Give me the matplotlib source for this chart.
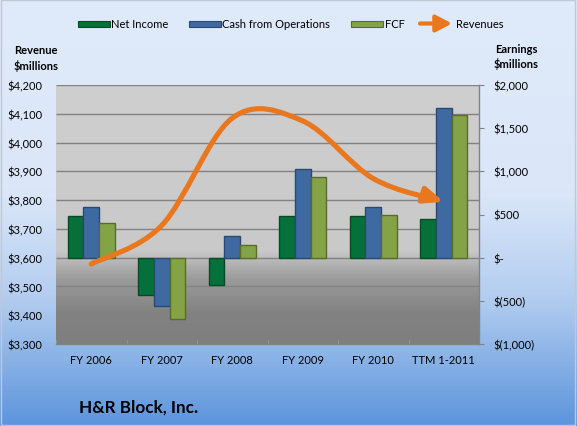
import numpy as np
import matplotlib
matplotlib.use('Agg')
import matplotlib.pyplot as plt
from matplotlib.path import Path
from matplotlib.patches import FancyArrowPatch, Rectangle, ArrowStyle
from matplotlib.colors import LinearSegmentedColormap
from matplotlib.ticker import FuncFormatter, FixedLocator

# ---------------- data ----------------
categories = ['FY 2006', 'FY 2007', 'FY 2008', 'FY 2009', 'FY 2010', 'TTM 1-2011']
net_income = [485, -433, -317, 485, 478, 447]
cash_from_ops = [589, -557, 253, 1025, 582, 1739]
fcf = [397, -711, 146, 929, 497, 1658]
revenues = [3578, 3712, 4085, 4075, 3875, 3794]
series_names = ['Net Income', 'Cash from Operations', 'FCF', 'Revenues']
rev_ticks = list(range(3300, 4201, 100))
earn_ticks = list(range(-1000, 2001, 500))
left_title = 'Revenue\n$millions'
right_title = 'Earnings\n$millions'
chart_title = 'H&R Block, Inc.'

# ---------------- style ----------------
FONT = ['Lato', 'DejaVu Sans']
plt.rcParams['font.family'] = FONT
W, H = 577, 427
DPI = 100
bar_colors = ['#05703a', '#3f6aa1', '#84a246']
bar_edges = ['#0a4a22', '#2a4870', '#586c2c']
rev_color = '#e8771e'
grid_color = '#828282'

fig = plt.figure(figsize=(W / DPI, H / DPI), dpi=DPI)

def fx(px):
    return px / W

def fy(py):
    return 1 - py / H

# figure background gradient
bg = fig.add_axes([0, 0, 1, 1])
bg.set_zorder(-10)
bg_cmap = LinearSegmentedColormap.from_list(
    'bg', [(0.0, '#5c95dc'), (0.3, '#b3cdf0'), (0.55, '#dbe7f9'), (1.0, '#dfeafa')])
grad = np.linspace(0, 1, 256).reshape(-1, 1)
bg.imshow(grad, aspect='auto', extent=[0, 1, 0, 1], origin='lower', cmap=bg_cmap,
          interpolation='bilinear')
bg.set_xlim(0, 1)
bg.set_ylim(0, 1)
bg.axis('off')
fig.add_artist(Rectangle((fx(1), fy(H - 1)), fx(W - 3), 1 - 2 / H, transform=fig.transFigure,
                         facecolor='none', edgecolor='#c0c8d4', lw=1.0, zorder=20))

# main axes (bars, earnings scale on the right)
ax = fig.add_axes([fx(56), fy(345), fx(479 - 56), (345 - 86) / H])
ax.patch.set_alpha(0)
pa_cmap = LinearSegmentedColormap.from_list(
    'pa', [(0.0, '#7f7f7f'), (0.12, '#828282'), (0.25, '#9b9b9b'), (0.33, '#bcbcbc'),
           (0.36, '#c9c9c9'), (1.0, '#cfcfcf')])
ax.imshow(grad, aspect='auto', extent=[0, 1, 0, 1], origin='lower', cmap=pa_cmap,
          transform=ax.transAxes, zorder=0, interpolation='bilinear')

n = len(categories)
x = np.arange(n, dtype=float)
bw = 1 / 4.5
for k, (vals, fc, ec) in enumerate(zip([net_income, cash_from_ops, fcf], bar_colors, bar_edges)):
    ax.bar(x + (k - 1) * bw, vals, width=bw, color=fc, edgecolor=ec, linewidth=1.0, zorder=3)

e_min, e_max = earn_ticks[0], earn_ticks[-1]
r_min, r_max = rev_ticks[0], rev_ticks[-1]
ax.set_xlim(-0.5, n - 0.5)
ax.set_ylim(e_min, e_max)

# gridlines at revenue tick positions (behind bars)
for r in rev_ticks:
    f = (r - r_min) / (r_max - r_min)
    ax.plot([0, 1], [f, f], transform=ax.transAxes, color=grid_color, lw=1.0, zorder=1,
            solid_capstyle='butt')

def fmt_earn(v, pos=None):
    if abs(v) < 1e-9:
        return '$-'
    if v < 0:
        return '$({:,.0f})'.format(abs(v))
    return '${:,.0f}'.format(v)

def fmt_rev(v, pos=None):
    return '${:,.0f}'.format(v)

ax2 = ax.twinx()
ax2.set_ylim(r_min, r_max)
ax2.set_xlim(-0.5, n - 0.5)

ax.yaxis.tick_right()
ax2.yaxis.tick_left()
ax.yaxis.set_major_locator(FixedLocator(earn_ticks))
ax.yaxis.set_major_formatter(FuncFormatter(fmt_earn))
ax2.yaxis.set_major_locator(FixedLocator(rev_ticks))
ax2.yaxis.set_major_formatter(FuncFormatter(fmt_rev))
ax.tick_params(axis='y', which='major', right=True, left=False, labelright=True, labelleft=False,
               direction='out', length=3.6, width=0.8, color=grid_color, pad=6.5,
               labelsize=8, labelcolor='black')
ax2.tick_params(axis='y', which='major', left=True, right=False, labelleft=True, labelright=False,
                length=0, pad=10, labelsize=8, labelcolor='black')

ax.set_xticks(x)
ax.set_xticklabels(categories)
ax.xaxis.set_minor_locator(FixedLocator(np.arange(-0.5, n, 1.0)))
ax.tick_params(axis='x', which='major', length=0, pad=7.5, labelsize=8, labelcolor='black')
ax.tick_params(axis='x', which='minor', length=3, direction='in', color='#9a9a9a')

for s in ['top', 'left']:
    ax.spines[s].set_visible(False)
for s in ['bottom', 'right']:
    ax.spines[s].set_color(grid_color)
    ax.spines[s].set_linewidth(1.0)
for s in ax2.spines.values():
    s.set_visible(False)

# smoothed revenue line with arrow head
pts = np.column_stack([x, np.asarray(revenues, dtype=float)])
verts = [pts[0]]
codes = [Path.MOVETO]
for i in range(n - 1):
    p_prev = pts[max(i - 1, 0)]
    p_next2 = pts[min(i + 2, n - 1)]
    c1 = pts[i] + (pts[i + 1] - p_prev) / 6.0
    c2 = pts[i + 1] - (p_next2 - pts[i]) / 6.0
    verts += [c1, c2, pts[i + 1]]
    codes += [Path.CURVE4] * 3
rev_path = Path(np.array(verts), codes)
arrow = FancyArrowPatch(path=rev_path, arrowstyle=ArrowStyle('-|>', head_length=1.15, head_width=0.48),
                        mutation_scale=10, color=rev_color, lw=3.7, capstyle='round',
                        joinstyle='round', transform=ax2.transData, zorder=5)
ax2.add_patch(arrow)

# axis titles
fig.text(fx(36), fy(58.5), left_title, ha='center', va='center', fontsize=8,
         fontweight='bold', linespacing=1.3)
fig.text(fx(516), fy(57), right_title, ha='center', va='center', fontsize=8,
         fontweight='bold', linespacing=1.3)

# chart title
fig.text(fx(79), fy(408), chart_title, ha='left', va='center', fontsize=12.3, fontweight='bold')

# legend (manual)
ly = 24.5
patch_pos = [78, 189, 351]
text_pos = [111, 222, 385]
for k in range(3):
    fig.add_artist(Rectangle((fx(patch_pos[k]), fy(27.5)), fx(32), 6 / H, transform=fig.transFigure,
                             facecolor=bar_colors[k], edgecolor=bar_edges[k], lw=0.8))
    fig.text(fx(text_pos[k]), fy(ly), series_names[k], ha='left', va='center', fontsize=8)
fig.add_artist(FancyArrowPatch((fx(420), fy(ly)), (fx(452), fy(ly)), transform=fig.transFigure,
                               arrowstyle=ArrowStyle('-|>', head_length=0.95, head_width=0.5),
                               mutation_scale=10, color=rev_color, lw=3.0,
                               shrinkA=0, shrinkB=0))
fig.text(fx(456), fy(ly), series_names[3], ha='left', va='center', fontsize=8)

fig.savefig('out.png', dpi=DPI)
